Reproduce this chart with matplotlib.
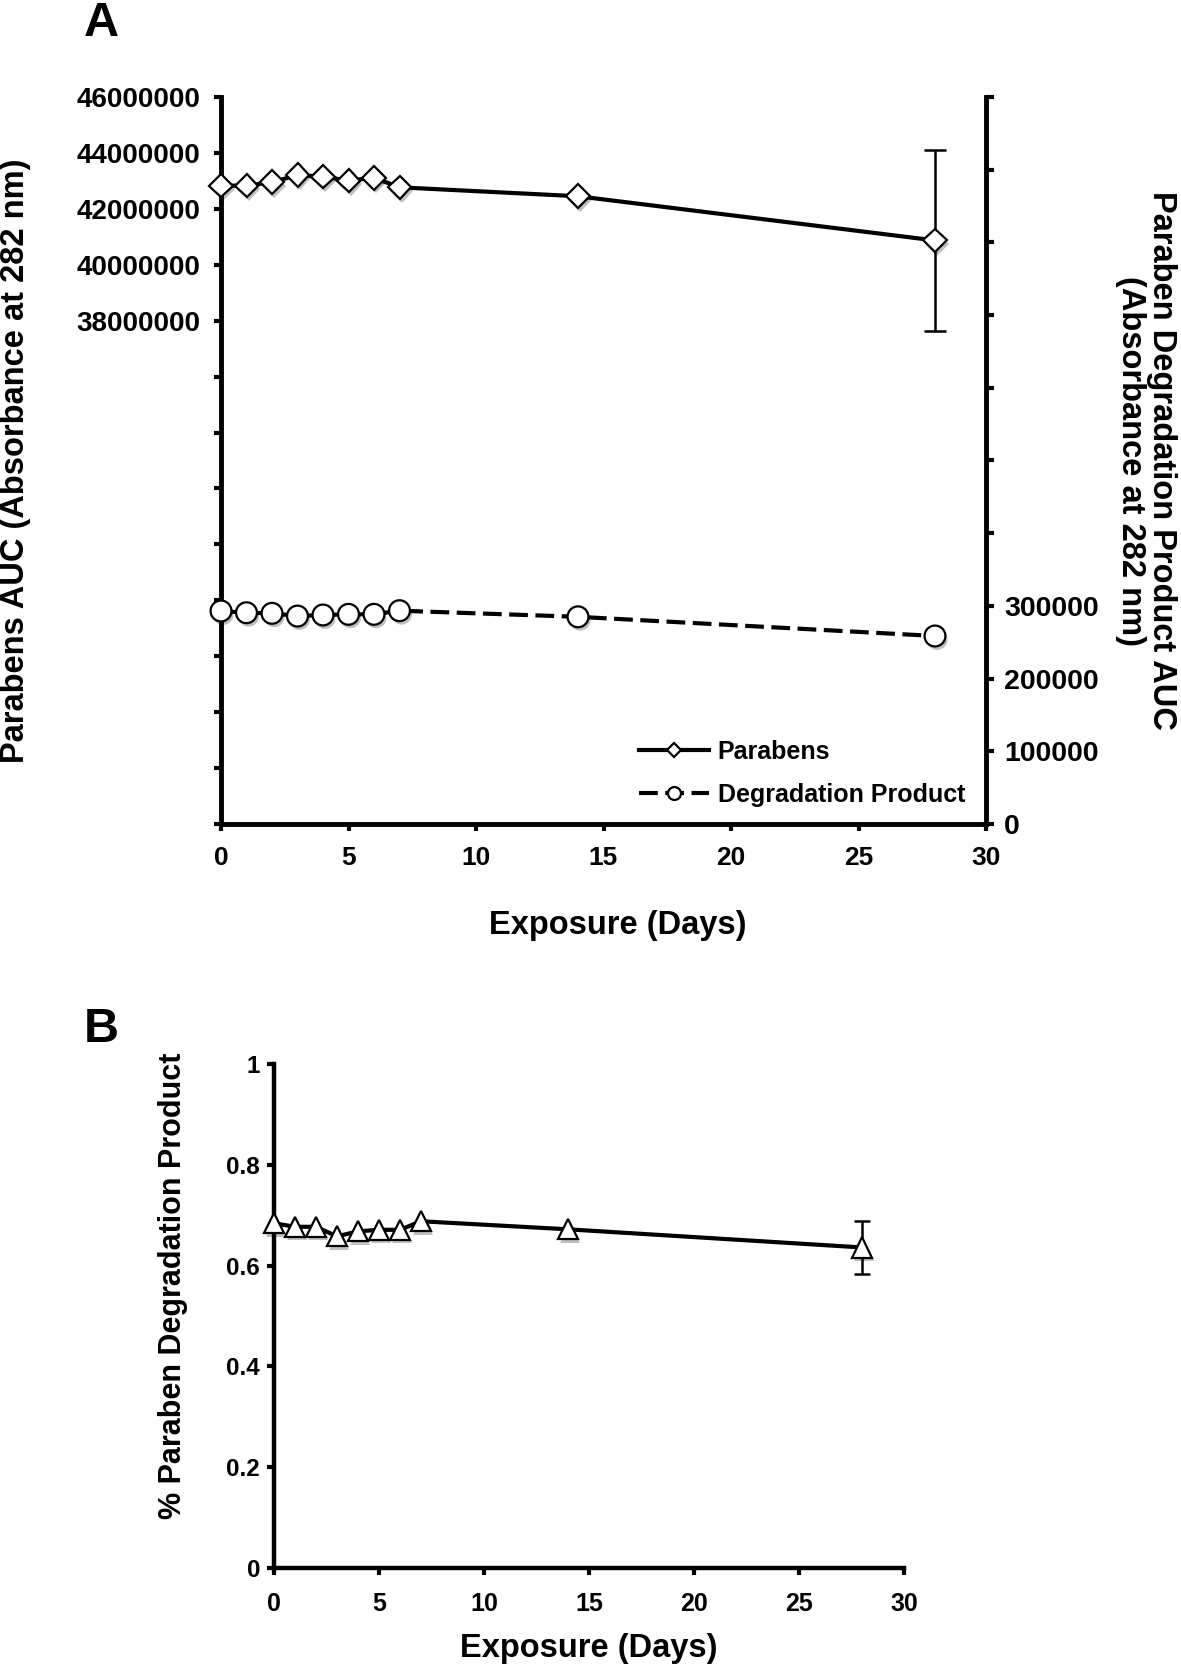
import matplotlib
matplotlib.use("Agg")
import matplotlib.pyplot as plt
import matplotlib.patheffects as pe
from matplotlib.ticker import FixedLocator, FuncFormatter
from matplotlib.lines import Line2D
import numpy as np

plt.rcParams['font.family'] = ['Liberation Sans', 'DejaVu Sans']
plt.rcParams['font.weight'] = 'bold'

# ---------------- data ----------------
days = [0, 1, 2, 3, 4, 5, 6, 7, 14, 28]
parabens_auc = [42830000, 42830000, 42950000, 43210000, 43150000, 43010000,
                43110000, 42770000, 42450000, 40870000]
parabens_err = [0, 0, 0, 0, 0, 0, 0, 0, 0, 3250000]
degradation_auc = [293000, 290600, 289800, 286000, 287500, 288400, 288400,
                   293400, 285000, 258600]
pct_degradation = [0.684, 0.677, 0.677, 0.658, 0.668, 0.671, 0.671, 0.688,
                   0.672, 0.636]
pct_err = [0, 0, 0, 0, 0, 0, 0, 0, 0, 0.052]

x_ticks = [0, 5, 10, 15, 20, 25, 30]
left_ticks = list(range(20000000, 46000001, 2000000))
right_ticks = list(range(0, 1000001, 100000))
b_ticks = [0, 0.2, 0.4, 0.6, 0.8, 1.0]

days_a = np.array(days)
shadow = [pe.SimplePatchShadow(offset=(1.5, -2.5), shadow_rgbFace='k', alpha=0.25), pe.Normal()]

W, H = 1181, 1667
fig = plt.figure(figsize=(W / 100, H / 100), dpi=100)

# ---------------- Panel A ----------------
axA = fig.add_axes([221 / W, 1 - 824 / H, (986 - 221) / W, (824 - 97) / H])
axA2 = axA.twinx()

for ax in (axA, axA2):
    ax.set_xlim(0, 30)
    ax.spines['top'].set_visible(False)
    for s in ax.spines.values():
        s.set_linewidth(3.5)
axA.spines['right'].set_visible(False)
axA2.spines['left'].set_visible(False)
axA2.spines['bottom'].set_visible(False)

axA.set_ylim(left_ticks[0], left_ticks[-1])
axA2.set_ylim(right_ticks[0], right_ticks[-1])

axA.xaxis.set_major_locator(FixedLocator(x_ticks))
axA.yaxis.set_major_locator(FixedLocator(left_ticks))
axA.yaxis.set_major_formatter(FuncFormatter(lambda v, p: f"{int(round(v))}" if v >= 38000000 else ""))
axA2.yaxis.set_major_locator(FixedLocator(right_ticks))
axA2.yaxis.set_major_formatter(FuncFormatter(lambda v, p: f"{int(round(v))}" if v <= 300000 else ""))

axA.tick_params(axis='x', direction='out', length=5, width=3, labelsize=19, pad=11)
axA.tick_params(axis='y', direction='out', length=5, width=3, labelsize=20, pad=10)
axA2.tick_params(axis='y', direction='out', length=6, width=3, labelsize=20.5, pad=7)

LS_DASH = (0, (4.5, 1.8))

# parabens
axA.plot(days, parabens_auc, '-', color='black', lw=3, zorder=2, clip_on=False)
pa = np.array(parabens_auc, dtype=float)
pe_err = np.array(parabens_err, dtype=float)
m = pe_err > 0
axA.errorbar(days_a[m], pa[m], yerr=pe_err[m], fmt='none', ecolor='black',
             elinewidth=1.8, capsize=8, capthick=1.8, zorder=2.5)
axA.plot(days, parabens_auc, linestyle='none', marker='D', ms=12, mfc='white',
         mec='black', mew=1.6, zorder=3, clip_on=False, path_effects=shadow)

# degradation product
axA2.plot(days, degradation_auc, linestyle=LS_DASH, color='black', lw=3,
          zorder=2, clip_on=False)
axA2.plot(days, degradation_auc, linestyle='none', marker='o', ms=15, mfc='white',
          mec='black', mew=1.6, zorder=3, clip_on=False, path_effects=shadow)

axA.set_xlabel('Exposure (Days)', fontsize=23.5, fontweight='bold', va='center')
axA.xaxis.set_label_coords(0.518, -0.139)
axA.set_ylabel('Parabens AUC (Absorbance at 282 nm)', fontsize=23.5, fontweight='bold',
               va='center', ha='center')
axA.yaxis.set_label_coords(-0.269, 0.5)
axA2.set_ylabel('Paraben Degradation Product AUC\n(Absorbance at 282 nm)', fontsize=23.5,
                fontweight='bold', rotation=270, va='center', ha='center', linespacing=1.0)
axA2.yaxis.set_label_coords(1.209, 0.5)

handles = [
    Line2D([], [], color='black', lw=3, marker='D', ms=12, mfc='white', mec='black', mew=1.6),
    Line2D([], [], color='black', lw=3, linestyle=LS_DASH, marker='o', ms=15,
           mfc='white', mec='black', mew=1.6),
]
axA2.legend(handles, ['Parabens', 'Degradation Product'], loc='upper left',
            bbox_to_anchor=((639 - 221) / 765, (824 - 740) / 727), frameon=False,
            fontsize=18, handlelength=2.8, handletextpad=0.35, borderpad=0,
            borderaxespad=0, labelspacing=0.75, markerscale=0.62)

fig.text(101 / W, 1 - 23 / H, 'A', fontsize=35, fontweight='bold', ha='center', va='center')

# ---------------- Panel B ----------------
axB = fig.add_axes([274 / W, 1 - 1568 / H, (904 - 274) / W, (1568 - 1064) / H])
axB.set_xlim(0, 30)
axB.set_ylim(0, 1)
axB.spines['top'].set_visible(False)
axB.spines['right'].set_visible(False)
for s in ('left', 'bottom'):
    axB.spines[s].set_linewidth(3.2)
axB.xaxis.set_major_locator(FixedLocator(x_ticks))
axB.yaxis.set_major_locator(FixedLocator(b_ticks))
axB.yaxis.set_major_formatter(FuncFormatter(lambda v, p: f"{v:g}"))
axB.tick_params(axis='x', direction='out', length=5, width=3, labelsize=18, pad=12)
axB.tick_params(axis='y', direction='out', length=5, width=3, labelsize=17.5, pad=5)

axB.plot(days, pct_degradation, '-', color='black', lw=3, zorder=2, clip_on=False)
pb = np.array(pct_degradation, dtype=float)
pbe = np.array(pct_err, dtype=float)
mb = pbe > 0
axB.errorbar(days_a[mb], pb[mb], yerr=pbe[mb], fmt='none', ecolor='black',
             elinewidth=1.8, capsize=5.5, capthick=1.8, zorder=2.5)
axB.plot(days, pct_degradation, linestyle='none', marker='^', ms=14.5, mfc='white',
         mec='black', mew=1.6, zorder=3, clip_on=False, path_effects=shadow)

axB.set_xlabel('Exposure (Days)', fontsize=23.5, fontweight='bold', va='center')
axB.xaxis.set_label_coords(0.5, -0.159)
axB.set_ylabel('% Paraben Degradation Product', fontsize=22, fontweight='bold',
               va='center', ha='center')
axB.yaxis.set_label_coords(-0.16, 0.56)

fig.text(101 / W, 1 - 1029 / H, 'B', fontsize=35, fontweight='bold', ha='center', va='center')

fig.savefig('out.png', dpi=100)
